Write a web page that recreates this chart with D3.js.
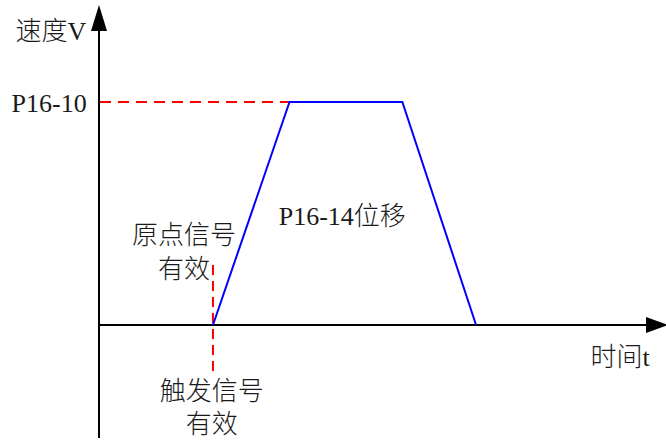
<!DOCTYPE html>
<html>
<head>
<meta charset="utf-8">
<script src="https://cdn.jsdelivr.net/npm/d3@7"></script>
<style>
  body { margin: 0; background: #fff; }
  text { font-family: "Liberation Serif", "Noto Sans CJK SC", serif; fill: #1a1a1a; font-weight: 300; }
</style>
</head>
<body>
<div id="chart"></div>
<script>
// speed profile (time units, speed as fraction of P16-10)
const profileT = [2.01, 3.36, 5.35, 6.65];
const profileV = [0, 1, 1, 0];

// markers
const triggerT = 2.01;      // trigger / origin signal time
const refSpeed = 1;         // P16-10
const refDashEndT = 3.92;   // red dashed reference line end

// labels (centre positions in data units)
const labelText = ["速度V", "P16-10", "原点信号", "有效", "P16-14位移", "时间t", "触发信号", "有效"];
const labelT    = [-0.85, -0.88, 1.50, 1.50, 4.29, 9.19, 1.99, 1.99];
const labelV    = [1.32, 0.995, 0.405, 0.253, 0.49, -0.143, -0.296, -0.444];

const W = 666, H = 443;

const svg = d3.select("#chart").append("svg")
  .attr("width", W)
  .attr("height", H);

const x = d3.scaleLinear().domain([0, 10]).range([99, 666]);
const y = d3.scaleLinear().domain([0, 1]).range([325, 102]);

// axes
svg.append("line")
  .attr("x1", x(0)).attr("x2", 650)
  .attr("y1", y(0)).attr("y2", y(0))
  .style("stroke", "#000").style("stroke-width", 2);

svg.append("line")
  .attr("x1", x(0)).attr("x2", x(0))
  .attr("y1", 438).attr("y2", 26)
  .style("stroke", "#000").style("stroke-width", 2);

// arrow heads
svg.append("path")
  .attr("d", "M" + (x(0) - 8) + ",31 L" + x(0) + ",5 L" + (x(0) + 8) + ",31 Z")
  .style("fill", "#000");
svg.append("path")
  .attr("d", "M646," + (y(0) - 8) + " L668," + y(0) + " L646," + (y(0) + 8) + " Z")
  .style("fill", "#000");

// red dashed reference lines
svg.append("line")
  .attr("x1", x(0) + 1).attr("x2", x(refDashEndT))
  .attr("y1", y(refSpeed)).attr("y2", y(refSpeed))
  .style("stroke", "#ff0000").style("stroke-width", 2)
  .style("stroke-dasharray", "11,7");

svg.append("line")
  .attr("x1", x(triggerT)).attr("x2", x(triggerT))
  .attr("y1", 265).attr("y2", 376)
  .style("stroke", "#ff0000").style("stroke-width", 2)
  .style("stroke-dasharray", "10,6");

// speed trapezoid
const line = d3.line()
  .x((d, i) => x(profileT[i]))
  .y(d => y(d));

svg.append("path")
  .datum(profileV)
  .attr("d", line)
  .style("fill", "none")
  .style("stroke", "#0000ff")
  .style("stroke-width", 2);

// labels
svg.selectAll(".lbl")
  .data(labelText)
  .enter().append("text")
  .attr("class", "lbl")
  .attr("x", (d, i) => x(labelT[i]))
  .attr("y", (d, i) => y(labelV[i]))
  .attr("dy", "0.35em")
  .attr("text-anchor", "middle")
  .style("font-size", "26px")
  .text(d => d);
</script>
</body>
</html>
